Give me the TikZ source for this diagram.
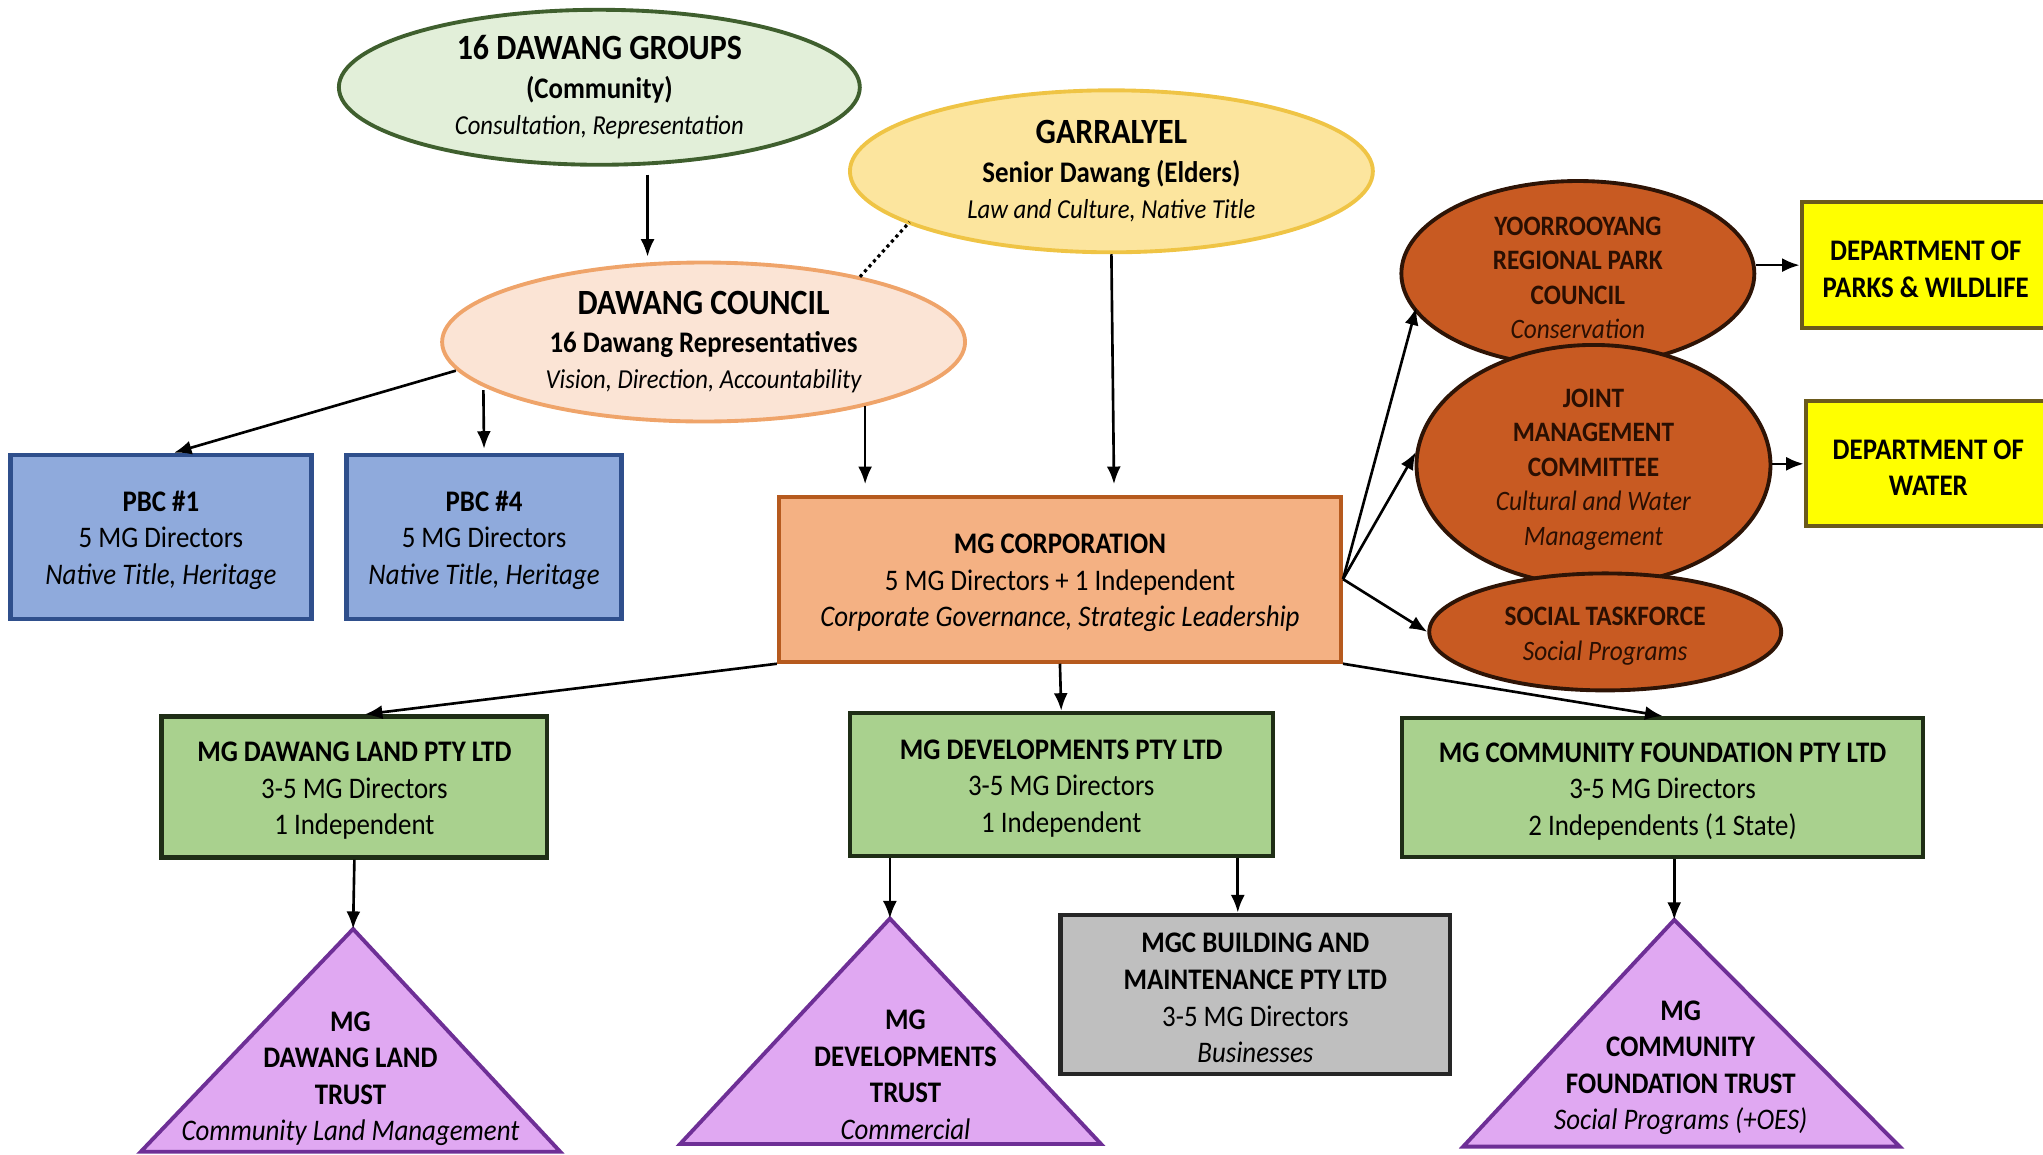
\documentclass[tikz,border=0pt]{standalone}
\usepackage{fontspec}
\setmainfont{Carlito}[FakeStretch=0.9]
\usepackage{tikz}
\usepackage{xcolor}
\usetikzlibrary{
    shapes.geometric,
    arrows.meta,
    calc,
    positioning
}
\definecolor{grpfill}{HTML}{E2EFD9}
\definecolor{grpdraw}{HTML}{3F5F2E}
\definecolor{elderfill}{HTML}{FCE59E}
\definecolor{elderdraw}{HTML}{EFC445}
\definecolor{cnclfill}{HTML}{FBE4D5}
\definecolor{cncldraw}{HTML}{EFA46A}
\definecolor{pbcfill}{HTML}{8FAADC}
\definecolor{pbcdraw}{HTML}{2F4F8C}
\definecolor{corpfill}{HTML}{F4B183}
\definecolor{corpdraw}{HTML}{B65A1E}
\definecolor{rustfill}{HTML}{C85A22}
\definecolor{rustdraw}{HTML}{2E1406}
\definecolor{rusttext}{HTML}{2A0F02}
\definecolor{deptfill}{HTML}{FFFF00}
\definecolor{deptdraw}{HTML}{6B5A1C}
\definecolor{pltfill}{HTML}{A9D18E}
\definecolor{pltdraw}{HTML}{1F2E16}
\definecolor{bldfill}{HTML}{BFBFBF}
\definecolor{bldraw}{HTML}{262626}
\definecolor{trstfill}{HTML}{E0A8F2}
\definecolor{trstdraw}{HTML}{6E2F96}
\newcommand{\bigttl}[1]{{\fontsize{10.1}{12}\selectfont\bfseries #1}}
\newcommand{\smit}[1]{{\fontsize{7.8}{10}\selectfont\itshape #1}}
\newcommand{\tp}{\rule{0pt}{7.8pt}}

\begin{document}
\begin{tikzpicture}[x=0.01303cm, y=-0.01303cm,
    every node/.style={align=center, inner sep=0pt, font=\fontsize{8.5}{10.4}\selectfont},
    oval/.style={ellipse, draw, line width=1.1pt},
    rustoval/.style={oval, fill=rustfill, draw=rustdraw, text=rusttext, font=\fontsize{8}{9.8}\selectfont},
    box/.style={rectangle, draw, line width=1.2pt},
    trust/.style={fill=trstfill, draw=trstdraw, line width=1.1pt, line join=miter},
    arr/.style={-{Latex[length=5pt, width=4pt]}, line width=0.75pt}]
                    \clip (0, 0) rectangle (1568, 886);
                    \node[oval, fill=grpfill, draw=grpdraw, minimum width=5.21cm, minimum height=1.55cm] (grp) at (460, 67)
                        {\bigttl{16 DAWANG GROUPS}\\[0.5pt]\textbf{(Community)}\\\smit{Consultation, Representation}};
                    \node[oval, fill=elderfill, draw=elderdraw, minimum width=5.23cm, minimum height=1.62cm] (elder) at (853, 131.5)
                        {\bigttl{GARRALYEL}\\[0.5pt]\textbf{Senior Dawang (Elders)}\\\smit{Law and Culture, Native Title}};
                    \node[oval, fill=cnclfill, draw=cncldraw, minimum width=5.23cm, minimum height=1.59cm] (cncl) at (540, 262.5)
                        {\bigttl{DAWANG COUNCIL}\\[0.5pt]\textbf{16 Dawang Representatives}\\\smit{Vision, Direction, Accountability}};
                    \node[box, fill=pbcfill, draw=pbcdraw, minimum width=3.01cm, minimum height=1.64cm] (pbca) at (123.5, 412)
                        {\tp\textbf{PBC \#1}\\5 MG Directors\\\textit{Native Title, Heritage}};
                    \node[box, fill=pbcfill, draw=pbcdraw, minimum width=2.75cm, minimum height=1.64cm] (pbcb) at (371.5, 412)
                        {\tp\textbf{PBC \#4}\\5 MG Directors\\\textit{Native Title, Heritage}};
                    \node[box, fill=corpfill, draw=corpdraw, minimum width=5.62cm, minimum height=1.65cm] (corp) at (813.5, 444.5)
                        {\tp\textbf{MG CORPORATION}\\5 MG Directors + 1 Independent\\\textit{Corporate Governance, Strategic Leadership}};
                    \node[rustoval, minimum width=3.53cm, minimum height=1.76cm] (yoor) at (1211, 210)
                        {\tp\textbf{YOORROOYANG}\\\textbf{REGIONAL PARK}\\\textbf{COUNCIL}\\\textit{Conservation}};
                    \node[rustoval, minimum width=3.54cm, minimum height=1.76cm] (jmc) at (1223, 357)
                        {\tp\textbf{JOINT}\\\textbf{MANAGEMENT}\\\textbf{COMMITTEE}\\\textit{Cultural and Water}\\\textit{Management}};
                    \node[rustoval, minimum width=3.52cm, minimum height=1.17cm] (social) at (1232, 485)
                        {\tp\textbf{SOCIAL TASKFORCE}\\\textit{Social Programs}};
                    \node[box, fill=deptfill, draw=deptdraw, minimum width=2.48cm, minimum height=1.26cm] (parks) at (1478, 203.5)
                        {\tp\textbf{DEPARTMENT OF}\\\textbf{PARKS \& WILDLIFE}};
                    \node[box, fill=deptfill, draw=deptdraw, minimum width=2.45cm, minimum height=1.25cm] (water) at (1480, 356)
                        {\tp\textbf{DEPARTMENT OF}\\\textbf{WATER}};
                    \node[box, fill=pltfill, draw=pltdraw, minimum width=3.86cm, minimum height=1.41cm] (land) at (272, 604)
                        {\tp\textbf{MG DAWANG LAND PTY LTD}\\3-5 MG Directors\\1 Independent};
                    \node[box, fill=pltfill, draw=pltdraw, minimum width=4.23cm, minimum height=1.43cm] (devs) at (814.5, 602)
                        {\tp\textbf{MG DEVELOPMENTS PTY LTD}\\3-5 MG Directors\\1 Independent};
                    \node[box, fill=pltfill, draw=pltdraw, minimum width=5.21cm, minimum height=1.39cm] (found) at (1276, 604.5)
                        {\tp\textbf{MG COMMUNITY FOUNDATION PTY LTD}\\3-5 MG Directors\\2 Independents (1 State)};
                    \node[box, fill=bldfill, draw=bldraw, minimum width=3.90cm, minimum height=1.59cm] (build) at (963.5, 763)
                        {\tp\textbf{MGC BUILDING AND}\\\textbf{MAINTENANCE PTY LTD}\\3-5 MG Directors\\\textit{Businesses}};
                    \coordinate (tlandtop) at (271, 713);
                    \coordinate (tdevstop) at (683, 705);
                    \coordinate (tfoundtop) at (1285, 706);
                    \draw[trust] (tlandtop) -- ++(-163, 171) -- ++(322, 0) -- cycle;
                    \draw[trust] (tdevstop) -- ++(-161, 173) -- ++(323, 0) -- cycle;
                    \draw[trust] (tfoundtop) -- ++(-162, 174) -- ++(335, 0) -- cycle;
                    \node (tland) at (269, 828)
                        {\textbf{MG}\\\textbf{DAWANG LAND}\\\textbf{TRUST}\\\textit{Community Land Management}};
                    \node (tdevs) at (695, 825)
                        {\textbf{MG}\\\textbf{DEVELOPMENTS}\\\textbf{TRUST}\\\textit{Commercial}};
                    \node (tfound) at (1290, 819.5)
                        {\textbf{MG}\\\textbf{COMMUNITY}\\\textbf{FOUNDATION TRUST}\\\textit{Social Programs (+OES)}};
                    \draw
                    ($(grp.south)+(37, 6)$) edge[arr] ($(cncl.north)+(-43, -3)$)
                    ($(cncl.center)+(120, -50)$) edge[densely dotted, line width=0.9pt] ($(elder.center)+(-155, 39)$)
                    ($(cncl.west)+(12, 22)$) edge[arr] ($(pbca.north)+(10, 0)$)
                    ($(cncl.center)+(-169, 37)$) edge[arr] ($(pbcb.north)+(0, -3)$)
                    ($(cncl.center)+(124, 49)$) edge[arr] ($(corp.north)+(-149.5, -8)$)
                    (elder.south) edge[arr] ($(corp.north)+(41.5, -8)$)
                    (corp.east) edge[arr] ($(yoor.center)+(-124, 26)$)
                    (corp.east) edge[arr] ($(jmc.west)+(1, -10)$)
                    (corp.east) edge[arr] (social.west)
                    (yoor.east |- parks.west) edge[arr] (parks.west)
                    (jmc.east |- water.west) edge[arr] (water.west)
                    (corp.south west) edge[arr] ($(land.north)+(8, 0)$)
                    (corp.south) edge[arr] (devs.north)
                    (corp.south east) edge[arr] (found.north)
                    ($(devs.south)+(135.5, 0)$) edge[arr] ($(build.north)+(-13.5, 0)$)
                    (land.south) edge[arr] (tlandtop)
                    (tdevstop |- devs.south) edge[arr] (tdevstop)
                    (tfoundtop |- found.south) edge[arr] (tfoundtop);
\end{tikzpicture}
\end{document}
